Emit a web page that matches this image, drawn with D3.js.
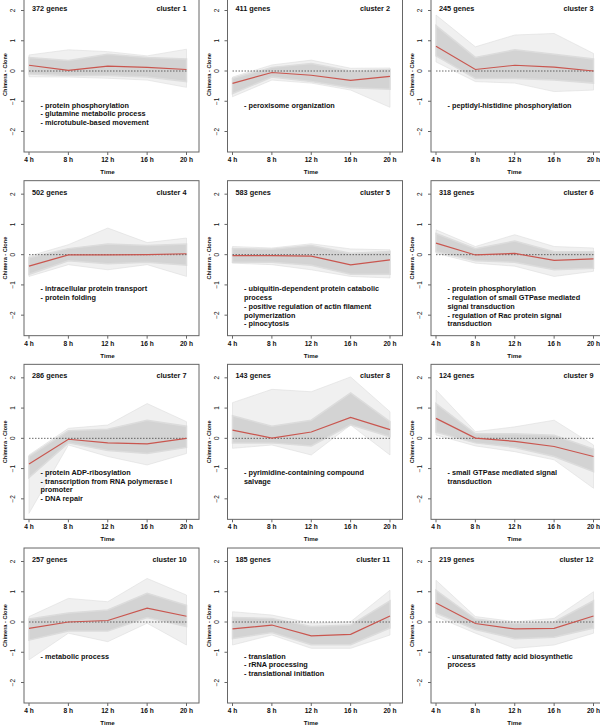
<html>
<head>
    <title>Cluster profiles - Chimera vs Clone</title>
    <style>
        body { margin: 0; background: white; }
        svg { display: block; }
        text { font-family: "Liberation Sans", Arial, sans-serif; fill: #111; }
        .box { fill: none; stroke: #666; stroke-width: 1; }
        .tick { stroke: #666; stroke-width: 1; }
        .core { fill: #d3d3d3; stroke: #dcdcdc; stroke-width: 1.5; }
        .outer { fill: #f0f0f0; stroke: #dedede; stroke-width: 0.6; }
        .mean { fill: none; stroke: #c9564f; stroke-width: 1.2; }
        .zero { stroke: #444; stroke-width: 0.8; stroke-dasharray: 1.5,1.5; }
    </style>
    <script src="https://cdn.jsdelivr.net/npm/d3@7"></script>
</head>
<body>
<div id="chart"></div>
<script>
    // time points and labels
    var hours = [4, 8, 12, 16, 20];
    var timeLabels = ['4 h', '8 h', '12 h', '16 h', '20 h'];
    var yTicks = [-2, -1, 0, 1, 2];

    var geneCounts = [372, 411, 245, 502, 583, 318, 286, 143, 124, 257, 185, 219];
    var clusterNames = ['cluster 1', 'cluster 2', 'cluster 3', 'cluster 4', 'cluster 5', 'cluster 6',
                        'cluster 7', 'cluster 8', 'cluster 9', 'cluster 10', 'cluster 11', 'cluster 12'];

    // red mean profile of each cluster
    var meanProfiles = [
        [0.19, 0.02, 0.16, 0.12, 0.05],
        [-0.41, -0.05, -0.14, -0.31, -0.18],
        [0.82, 0.05, 0.19, 0.13, 0.0],
        [-0.38, -0.01, -0.01, 0.0, 0.03],
        [-0.03, -0.03, -0.05, -0.34, -0.17],
        [0.38, -0.01, 0.04, -0.19, -0.14],
        [-0.85, -0.03, -0.15, -0.18, 0.0],
        [0.27, 0.01, 0.21, 0.69, 0.29],
        [0.66, 0.01, -0.1, -0.27, -0.6],
        [-0.21, 0.0, 0.05, 0.46, 0.19],
        [-0.23, -0.1, -0.46, -0.41, 0.2],
        [0.63, -0.05, -0.23, -0.21, 0.2]
    ];

    // dense part of the gene profiles (low / high)
    var coreLow = [
        [-0.1, -0.15, -0.15, -0.2, -0.35],
        [-0.75, -0.2, -0.35, -0.55, -0.6],
        [0.5, -0.25, -0.25, -0.3, -0.4],
        [-0.65, -0.2, -0.3, -0.25, -0.35],
        [-0.25, -0.25, -0.35, -0.65, -0.65],
        [0.1, -0.2, -0.25, -0.5, -0.45],
        [-1.3, -0.15, -0.4, -0.5, -0.3],
        [-0.15, -0.15, -0.25, 0.45, 0.05],
        [0.2, -0.15, -0.3, -0.6, -1.1],
        [-0.6, -0.3, -0.3, 0.15, -0.15],
        [-0.55, -0.35, -0.75, -0.75, -0.2],
        [0.3, -0.25, -0.55, -0.5, -0.2]
    ];
    var coreHigh = [
        [0.45, 0.35, 0.55, 0.45, 0.4],
        [-0.25, 0.12, 0.25, 0.0, 0.05],
        [1.5, 0.45, 0.7, 0.55, 0.4],
        [-0.1, 0.2, 0.35, 0.3, 0.35],
        [0.2, 0.18, 0.3, 0.05, 0.1],
        [0.7, 0.2, 0.45, 0.1, 0.1],
        [-0.6, 0.25, 0.3, 0.6, 0.4],
        [0.75, 0.4, 0.6, 1.5, 0.55],
        [1.15, 0.15, 0.15, 0.1, -0.35],
        [0.1, 0.3, 0.4, 0.95, 0.55],
        [0.15, 0.12, -0.15, -0.1, 0.7],
        [1.05, 0.1, -0.05, 0.0, 0.7]
    ];

    // faint outermost gene profiles (low / high)
    var outerLow = [
        [-0.19, -0.2, -0.24, -0.3, -0.54],
        [-0.85, -0.3, -0.4, -0.63, -1.2],
        [0.3, -0.35, -0.4, -0.68, -0.63],
        [-0.72, -0.33, -0.5, -0.33, -0.72],
        [-0.28, -0.33, -0.5, -0.72, -0.77],
        [0.05, -0.28, -0.38, -0.72, -0.55],
        [-2.48, -0.22, -0.6, -0.88, -0.5],
        [-0.33, -0.22, -0.55, 0.44, -0.55],
        [0.11, -0.25, -0.44, -0.71, -1.65],
        [-1.25, -0.37, -0.65, -0.04, -0.76],
        [-0.76, -0.43, -0.87, -0.87, -0.43],
        [0.18, -0.37, -0.87, -0.76, -0.37]
    ];
    var outerHigh = [
        [0.53, 0.7, 0.64, 0.5, 0.72],
        [-0.2, 0.2, 0.36, 0.09, 0.1],
        [1.85, 0.8, 1.19, 1.24, 0.58],
        [-0.05, 0.33, 0.88, 0.4, 0.55],
        [0.27, 0.22, 0.36, 0.19, 0.16],
        [0.82, 0.27, 0.66, 0.27, 0.22],
        [-0.55, 0.33, 0.44, 1.15, 0.55],
        [1.18, 1.62, 1.54, 2.03, 0.88],
        [1.6, 0.22, 0.38, 0.6, -0.22],
        [0.18, 0.78, 0.67, 1.44, 0.89],
        [0.34, 0.23, -0.04, 0.01, 1.05],
        [1.38, 0.18, 0.01, 0.12, 1.0]
    ];

    // enriched GO terms, one entry per printed line
    var goTerms = [
        ['- protein phosphorylation', '- glutamine metabolic process', '- microtubule-based movement'],
        ['- peroxisome organization'],
        ['- peptidyl-histidine phosphorylation'],
        ['- intracellular protein transport', '- protein folding'],
        ['- ubiquitin-dependent protein catabolic', 'process', '- positive regulation of actin filament', 'polymerization', '- pinocytosis'],
        ['- protein phosphorylation', '- regulation of small GTPase mediated', 'signal transduction', '- regulation of Rac protein signal', 'transduction'],
        ['- protein ADP-ribosylation', '- transcription from RNA polymerase I', 'promoter', '- DNA repair'],
        ['- pyrimidine-containing compound', 'salvage'],
        ['- small GTPase mediated signal', 'transduction'],
        ['- metabolic process'],
        ['- translation', '- rRNA processing', '- translational initiation'],
        ['- unsaturated fatty acid biosynthetic', 'process']
    ];

    var width = 600, height = 725;
    var colStep = 203.5, rowStep = 183.67;

    var svg = d3.select('#chart')
            .append('svg')
            .attr('width', width)
            .attr('height', height);

    clusterNames.forEach(function(name, k) {
        var col = k % 3, row = Math.floor(k / 3);
        var ox = col * colStep;
        var zeroY = 71 + row * rowStep;

        var x = d3.scaleLinear().domain([4, 20]).range([ox + 29, ox + 186.5]);
        var y = d3.scaleLinear().domain([-81 / 30.25, 74 / 30.25]).range([zeroY + 81, zeroY - 74]);

        var g = svg.append('g');

        var outerArea = d3.area()
                .x(function(d, i) { return x(hours[i]); })
                .y0(function(d, i) { return y(outerLow[k][i]); })
                .y1(function(d, i) { return y(outerHigh[k][i]); });
        var coreArea = d3.area()
                .x(function(d, i) { return x(hours[i]); })
                .y0(function(d, i) { return y(coreLow[k][i]); })
                .y1(function(d, i) { return y(coreHigh[k][i]); });

        g.append('path').attr('class', 'outer').attr('d', outerArea(hours));
        g.append('path').attr('class', 'core').attr('d', coreArea(hours));

        // zero reference
        g.append('line')
                .attr('class', 'zero')
                .attr('x1', x(4)).attr('x2', x(20))
                .attr('y1', y(0)).attr('y2', y(0));

        var line = d3.line()
                .x(function(d, i) { return x(hours[i]); })
                .y(function(d) { return y(d); });
        g.append('path').attr('class', 'mean').attr('d', line(meanProfiles[k]));

        var boxL = ox + 24, boxR = ox + 199;
        var boxT = y.range()[1], boxB = y.range()[0];
        g.append('rect')
                .attr('class', 'box')
                .attr('x', boxL).attr('y', boxT)
                .attr('width', boxR - boxL).attr('height', boxB - boxT);

        // x axis ticks + labels
        g.selectAll('.xt')
                .data(hours)
            .enter().append('line')
                .attr('class', 'tick')
                .attr('x1', function(d) { return x(d); })
                .attr('x2', function(d) { return x(d); })
                .attr('y1', boxB).attr('y2', boxB + 3);
        g.selectAll('.xl')
                .data(hours)
            .enter().append('text')
                .attr('x', function(d) { return x(d); })
                .attr('y', zeroY + 91)
                .attr('text-anchor', 'middle')
                .style('font-size', '6.6px')
                .style('font-weight', 'bold')
                .text(function(d, i) { return timeLabels[i]; });
        g.append('text')
                .attr('x', (boxL + boxR) / 2 - 4)
                .attr('y', zeroY + 103)
                .attr('text-anchor', 'middle')
                .style('font-size', '6.2px')
                .style('font-weight', 'bold')
                .text('Time');

        // y axis ticks + labels
        g.selectAll('.yt')
                .data(yTicks)
            .enter().append('line')
                .attr('class', 'tick')
                .attr('x1', boxL - 3).attr('x2', boxL)
                .attr('y1', function(d) { return y(d); })
                .attr('y2', function(d) { return y(d); });
        g.selectAll('.yl')
                .data(yTicks)
            .enter().append('text')
                .attr('transform', function(d) { return 'translate(' + (ox + 15) + ',' + y(d) + ') rotate(-90)'; })
                .attr('text-anchor', 'middle')
                .style('font-size', '6.4px')
                .text(function(d) { return d < 0 ? '\u2212' + (-d) : d; });
        g.append('text')
                .attr('transform', 'translate(' + (ox + 7) + ',' + (zeroY + 3.5) + ') rotate(-90)')
                .attr('text-anchor', 'middle')
                .style('font-size', '5.6px')
                .style('font-weight', 'bold')
                .text('Chimera - Clone');

        // header texts
        g.append('text')
                .attr('x', x(4) + 3)
                .attr('y', zeroY - 60)
                .style('font-size', '7.3px')
                .style('font-weight', 'bold')
                .text(geneCounts[k] + ' genes');
        g.append('text')
                .attr('x', x(20))
                .attr('y', zeroY - 60)
                .attr('text-anchor', 'end')
                .style('font-size', '7.3px')
                .style('font-weight', 'bold')
                .text(name);

        g.selectAll('.go')
                .data(goTerms[k])
            .enter().append('text')
                .attr('x', x(4) + 11.5)
                .attr('y', function(d, i) { return zeroY + 36.5 + i * 8.8; })
                .style('font-size', '7.3px')
                .style('font-weight', 'bold')
                .text(function(d) { return d; });
    });
</script>
</body>
</html>
